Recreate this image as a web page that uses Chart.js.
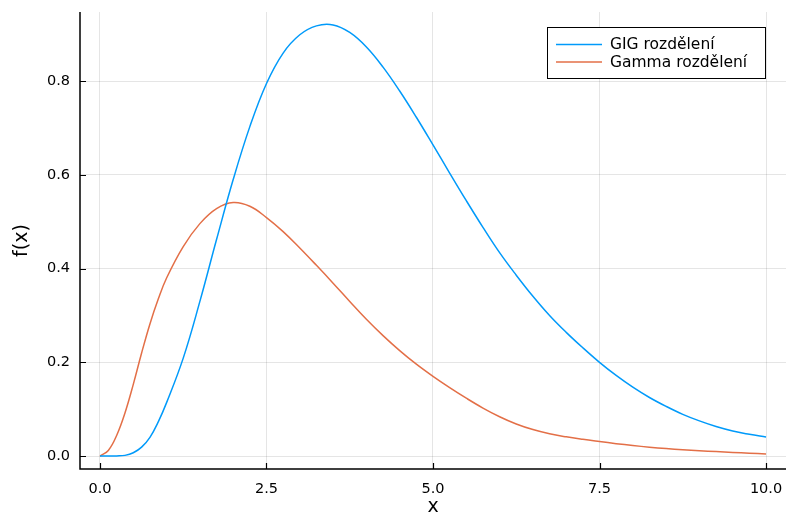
<!DOCTYPE html>
<html>
<head>
<meta charset="utf-8">
<script src="https://cdn.jsdelivr.net/npm/chart.js@4"></script>
<style>
  html, body { margin: 0; padding: 0; background: #fff; }
  #wrap { width: 787px; height: 516px; }
</style>
</head>
<body>
<div id="wrap"><canvas id="pdfChart" width="787" height="516"></canvas></div>
<script>
// x grid of the evaluated densities (finer near zero where the curves bend)
const xs = [0, 0.125, 0.25, 0.375, 0.5, 0.625, 0.75, 0.875, 1, 1.25, 1.5, 1.75, 2, 2.25, 2.5,
  2.75, 3, 3.25, 3.5, 3.75, 4, 4.25, 4.5, 4.75, 5, 5.25, 5.5, 5.75, 6, 6.25, 6.5, 6.75,
  7, 7.25, 7.5, 7.75, 8, 8.25, 8.5, 8.75, 9, 9.25, 9.5, 9.75, 10];

// GIG density
const gigPdf = [0, 0, 0.0003, 0.0015, 0.007, 0.019, 0.040, 0.073, 0.114, 0.209, 0.330, 0.462,
  0.590, 0.703, 0.795, 0.860, 0.899, 0.918, 0.920, 0.904, 0.873, 0.830, 0.779, 0.723,
  0.664, 0.604, 0.545, 0.488, 0.434, 0.386, 0.341, 0.300, 0.264, 0.231, 0.200, 0.172,
  0.147, 0.125, 0.106, 0.089, 0.075, 0.063, 0.0535, 0.0465, 0.0405];

// Gamma density
const gammaPdf = [0, 0.012, 0.044, 0.092, 0.153, 0.220, 0.282, 0.335, 0.380, 0.447, 0.496, 0.528,
  0.541, 0.533, 0.509, 0.479, 0.444, 0.407, 0.369, 0.330, 0.292, 0.257, 0.225, 0.196,
  0.170, 0.146, 0.1235, 0.1025, 0.084, 0.0685, 0.0565, 0.0475, 0.041, 0.0357, 0.031, 0.0265,
  0.0225, 0.019, 0.016, 0.0134, 0.0113, 0.0095, 0.0078, 0.0062, 0.0046];

const seriesNames = ["GIG rozdělení", "Gamma rozdělení"];
const xTicks = [0, 2.5, 5, 7.5, 10];
const yTicks = [0, 0.2, 0.4, 0.6, 0.8];
const xLabel = "x";
const yLabel = "f(x)";

const FONT = "DejaVu Sans";

function toPoints(ys) {
  return xs.map((x, i) => ({ x: x, y: ys[i] }));
}

// spines, inward tick marks and axis labels, Plots.jl style
const frame = {
  id: "frame",
  afterDatasetsDraw(chart) {
    const { ctx, chartArea, scales } = chart;
    ctx.save();
    ctx.strokeStyle = "#000";
    ctx.lineWidth = 1.2;
    ctx.beginPath();
    xTicks.forEach(v => {
      const px = Math.round(scales.x.getPixelForValue(v)) + 0.5;
      ctx.moveTo(px, chartArea.bottom);
      ctx.lineTo(px, chartArea.bottom - 6);
    });
    yTicks.forEach(v => {
      const py = Math.round(scales.y.getPixelForValue(v)) + 0.5;
      ctx.moveTo(chartArea.left, py);
      ctx.lineTo(chartArea.left + 6, py);
    });
    ctx.stroke();

    ctx.lineWidth = 1.5;
    ctx.beginPath();
    ctx.moveTo(chartArea.left, chartArea.top);
    ctx.lineTo(chartArea.left, chartArea.bottom);
    ctx.lineTo(chartArea.right, chartArea.bottom);
    ctx.stroke();

    ctx.fillStyle = "#000";
    ctx.font = "19px '" + FONT + "'";
    ctx.textAlign = "center";
    ctx.textBaseline = "middle";
    ctx.fillText(xLabel, (chartArea.left + chartArea.right) / 2, 507);
    ctx.translate(22, (chartArea.top + chartArea.bottom) / 2);
    ctx.rotate(-Math.PI / 2);
    ctx.fillText(yLabel, 0, 0);
    ctx.restore();
  }
};

// boxed legend in the top right corner
const boxLegend = {
  id: "boxLegend",
  afterDraw(chart) {
    const ctx = chart.ctx;
    const left = 547.5, top = 27.5, w = 218, h = 51;
    ctx.save();
    ctx.fillStyle = "#fff";
    ctx.fillRect(left, top, w, h);
    ctx.strokeStyle = "#000";
    ctx.lineWidth = 1;
    ctx.strokeRect(left, top, w, h);
    ctx.font = "15.5px '" + FONT + "'";
    ctx.textBaseline = "middle";
    chart.data.datasets.forEach((ds, i) => {
      const y = 44.5 + i * 17.5;
      ctx.strokeStyle = ds.borderColor;
      ctx.lineWidth = 1.5;
      ctx.beginPath();
      ctx.moveTo(556, y);
      ctx.lineTo(602, y);
      ctx.stroke();
      ctx.fillStyle = "#000";
      ctx.fillText(ds.label, 610, y + 0.5);
    });
    ctx.restore();
  }
};

const gridColor = "rgba(0, 0, 0, 0.1)";

new Chart(document.getElementById("pdfChart"), {
  type: "line",
  data: {
    datasets: [
      {
        label: seriesNames[0],
        data: toPoints(gigPdf),
        borderColor: "#009AFA",
        borderWidth: 1.5,
        pointRadius: 0,
        tension: 0.4,
        fill: false
      },
      {
        label: seriesNames[1],
        data: toPoints(gammaPdf),
        borderColor: "#E36F47",
        borderWidth: 1.5,
        pointRadius: 0,
        tension: 0.4,
        fill: false
      }
    ]
  },
  options: {
    responsive: false,
    animation: false,
    layout: { padding: { top: 12, right: 1, left: 0, bottom: 0 } },
    plugins: {
      legend: { display: false },
      tooltip: { enabled: false }
    },
    scales: {
      x: {
        type: "linear",
        min: -0.3,
        max: 10.3,
        afterFit: scale => {
          scale.height = 47;
          scale.paddingLeft = 0;
          scale.paddingRight = 0;
        },
        afterBuildTicks: scale => { scale.ticks = xTicks.map(v => ({ value: v })); },
        grid: { color: gridColor, lineWidth: 1, drawTicks: false },
        border: { display: false },
        ticks: {
          color: "#000",
          padding: 12,
          font: { family: FONT, size: 14.5 },
          maxRotation: 0,
          callback: v => v.toFixed(1)
        }
      },
      y: {
        type: "linear",
        min: -0.0276,
        max: 0.9476,
        afterFit: scale => {
          scale.width = 80;
          scale.paddingTop = 0;
          scale.paddingBottom = 0;
        },
        afterBuildTicks: scale => { scale.ticks = yTicks.map(v => ({ value: v })); },
        grid: { color: gridColor, lineWidth: 1, drawTicks: false },
        border: { display: false },
        ticks: {
          color: "#000",
          padding: 10,
          font: { family: FONT, size: 14.5 },
          callback: v => v.toFixed(1)
        }
      }
    }
  },
  plugins: [frame, boxLegend]
});
</script>
</body>
</html>
